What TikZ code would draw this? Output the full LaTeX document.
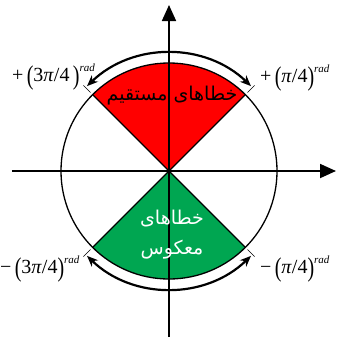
\documentclass[tikz,border=0pt]{standalone}
\usepackage{fontspec}
\usepackage{graphicx}
\setmainfont{Liberation Serif}
\newfontfamily\arabicfont[Script=Arabic]{DejaVu Sans}
\TeXXeTstate=1
\usetikzlibrary{arrows.meta,positioning}
\definecolor{sectred}{RGB}{255,0,0}
\definecolor{sectgreen}{RGB}{0,166,81}
\newcommand{\bigpar}[1]{\raisebox{-3pt}{\scalebox{1}[1.35]{#1}}}
\newcommand{\radlabel}[2]{#1\,\bigpar{(}#2\bigpar{)}\raisebox{10pt}{\fontsize{11}{11}\selectfont\itshape rad}}

\begin{document}
\begin{tikzpicture}[x=1pt,y=1pt,
    axis/.style={line width=1.8pt, -{Triangle[length=16pt,width=14pt]}},
    edge/.style={line width=1.3pt},
    arcarrow/.style={line width=2.2pt, {Stealth[length=11pt,width=9pt]}-{Stealth[length=11pt,width=9pt]}},
    tick/.style={line width=0.6pt},
    angle/.style={font=\fontsize{20}{20}\selectfont, inner sep=0pt},
    sectlabel/.style={font=\arabicfont\fontsize{19}{30}\selectfont, align=center, inner sep=0pt}
]
\useasboundingbox (-169,-167) rectangle (170,171);
\coordinate (O) at (0,0);
\def\R{108}

% sectors
\fill[sectred] (O) -- (45:\R) arc[start angle=45,end angle=135,radius=\R] -- cycle;
\fill[sectgreen] (O) -- (-45:\R) arc[start angle=-45,end angle=-135,radius=\R] -- cycle;
\draw[edge] (O) circle[radius=\R];
\foreach \a in {45,135,-45,-135}{
    \draw[edge] (O) -- (\a:\R);
    \draw[tick] (\a:111) -- (\a:121);
}

% axes
\draw[axis] (-157,0) -- (167,0);
\draw[axis] (0,-166) -- (0,166);

% arcs
\draw[arcarrow] (134:118) arc[start angle=134,end angle=46,radius=118];
\draw[arcarrow] (-134:118) arc[start angle=-134,end angle=-46,radius=118];

% labels
\node[angle, anchor=base west] (tr) at (91,89) {\radlabel{+}{\textit{π}/4}};
\node[angle, anchor=base west] (tl) at (-157,90) {\radlabel{+}{3\textit{π}/4\,}};
\node[angle, anchor=base west] (br) at (91,-102) {\radlabel{−}{\textit{π}/4}};
\node[angle, anchor=base west] (bl) at (-169,-102) {\radlabel{−}{3\textit{π}/4}};

\node[sectlabel] (direct) at (3,75) {\beginR خطاهای مستقیم\endR};
\node[sectlabel, text=white] (inverse) at (3,-64) {\beginR خطاهای\endR\\\beginR معکوس\endR};
\end{tikzpicture}
\end{document}
